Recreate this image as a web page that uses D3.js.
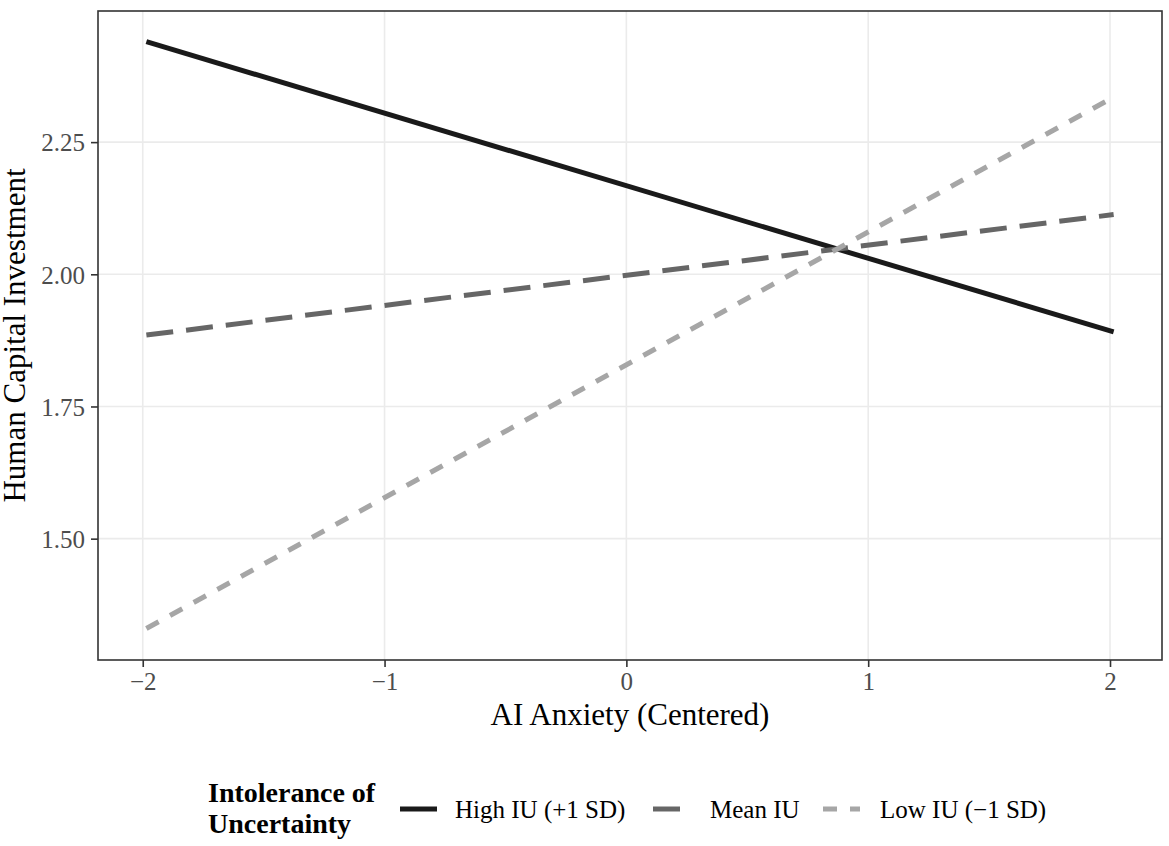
<!DOCTYPE html>
<html lang="en">
<head>
<meta charset="utf-8">
<title>Human Capital Investment by AI Anxiety</title>
<script src="https://cdn.jsdelivr.net/npm/d3@7"></script>
<style>
  body { margin: 0; background: #fff; }
  text { font-family: "Liberation Serif", "Times New Roman", serif; }
</style>
</head>
<body>
<script>
// data
var anxiety = [-1.985, 2.015];
var seriesNames = ["High IU (+1 SD)", "Mean IU", "Low IU (\u22121 SD)"];
var highIU = [2.440, 1.891];
var meanIU = [1.885, 2.113];
var lowIU = [1.330, 2.335];
var xTicks = [-2, -1, 0, 1, 2];
var yTicks = [1.50, 1.75, 2.00, 2.25];

var w = 1169, h = 846;
var panel = {left: 98, right: 1162, top: 11, bottom: 660};

var series = [
  {name: seriesNames[0], values: highIU, color: "#1a1a1a", dash: null},
  {name: seriesNames[1], values: meanIU, color: "#666666", dash: "27,13"},
  {name: seriesNames[2], values: lowIU, color: "#a6a6a6", dash: "14,13"}
];

var svg = d3.select("body").append("svg")
  .attr("width", w)
  .attr("height", h);

var xScale = d3.scaleLinear()
  .domain([-2.185, 2.215])
  .range([panel.left, panel.right]);

var yScale = d3.scaleLinear()
  .domain([1.2705, 2.498])
  .range([panel.bottom, panel.top]);

// grid
svg.append("g").selectAll("line")
  .data(xTicks)
  .enter().append("line")
  .attr("x1", function(d) { return xScale(d); })
  .attr("x2", function(d) { return xScale(d); })
  .attr("y1", panel.top)
  .attr("y2", panel.bottom)
  .attr("stroke", "#ebebeb")
  .attr("stroke-width", 1.6);

svg.append("g").selectAll("line")
  .data(yTicks)
  .enter().append("line")
  .attr("x1", panel.left)
  .attr("x2", panel.right)
  .attr("y1", function(d) { return yScale(d); })
  .attr("y2", function(d) { return yScale(d); })
  .attr("stroke", "#ebebeb")
  .attr("stroke-width", 1.6);

// lines
var line = d3.line()
  .x(function(d) { return xScale(d[0]); })
  .y(function(d) { return yScale(d[1]); });

series.forEach(function(s) {
  svg.append("path")
    .attr("d", line(d3.zip(anxiety, s.values)))
    .attr("fill", "none")
    .attr("stroke", s.color)
    .attr("stroke-width", 5)
    .attr("stroke-dasharray", s.dash);
});

// axes
var xAxis = d3.axisBottom(xScale)
  .tickValues(xTicks)
  .tickSize(7)
  .tickSizeOuter(0)
  .tickPadding(5)
  .tickFormat(function(d) { return d3.format("d")(d).replace("-", "\u2212"); });

var yAxis = d3.axisLeft(yScale)
  .tickValues(yTicks)
  .tickSize(7)
  .tickSizeOuter(0)
  .tickPadding(6)
  .tickFormat(d3.format(".2f"));

var gx = svg.append("g")
  .attr("transform", "translate(0," + panel.bottom + ")")
  .call(xAxis);
var gy = svg.append("g")
  .attr("transform", "translate(" + panel.left + ",0)")
  .call(yAxis);

[gx, gy].forEach(function(g) {
  g.select(".domain").remove();
  g.selectAll(".tick line").attr("stroke", "#333333").attr("stroke-width", 1.6);
  g.selectAll(".tick text")
    .attr("fill", "#4d4d4d")
    .attr("font-size", "25px")
    .attr("font-family", "Liberation Serif, serif");
});
gy.selectAll(".tick text").attr("dy", "0.35em");

// panel border
svg.append("rect")
  .attr("x", panel.left)
  .attr("y", panel.top)
  .attr("width", panel.right - panel.left)
  .attr("height", panel.bottom - panel.top)
  .attr("fill", "none")
  .attr("stroke", "#333333")
  .attr("stroke-width", 1.6);

// axis titles
svg.append("text")
  .attr("x", (panel.left + panel.right) / 2)
  .attr("y", 725)
  .attr("text-anchor", "middle")
  .attr("font-size", "31px")
  .attr("fill", "#000")
  .text("AI Anxiety (Centered)");

svg.append("text")
  .attr("transform", "translate(25," + ((panel.top + panel.bottom) / 2) + ") rotate(-90)")
  .attr("text-anchor", "middle")
  .attr("font-size", "31px")
  .attr("fill", "#000")
  .text("Human Capital Investment");

// legend
var legend = svg.append("g");
legend.append("text")
  .attr("x", 208)
  .attr("y", 802)
  .attr("font-size", "28px")
  .attr("font-weight", "bold")
  .text("Intolerance of");
legend.append("text")
  .attr("x", 208)
  .attr("y", 833)
  .attr("font-size", "28px")
  .attr("font-weight", "bold")
  .text("Uncertainty");

var keyX = [400, 653, 823];
var labelX = [455, 710, 880];
series.forEach(function(s, i) {
  legend.append("line")
    .attr("x1", keyX[i])
    .attr("x2", keyX[i] + 37)
    .attr("y1", 809)
    .attr("y2", 809)
    .attr("stroke", s.color)
    .attr("stroke-width", 5)
    .attr("stroke-dasharray", s.dash);
  legend.append("text")
    .attr("x", labelX[i])
    .attr("y", 818)
    .attr("font-size", "25px")
    .attr("fill", "#000")
    .text(s.name);
});
</script>
</body>
</html>
